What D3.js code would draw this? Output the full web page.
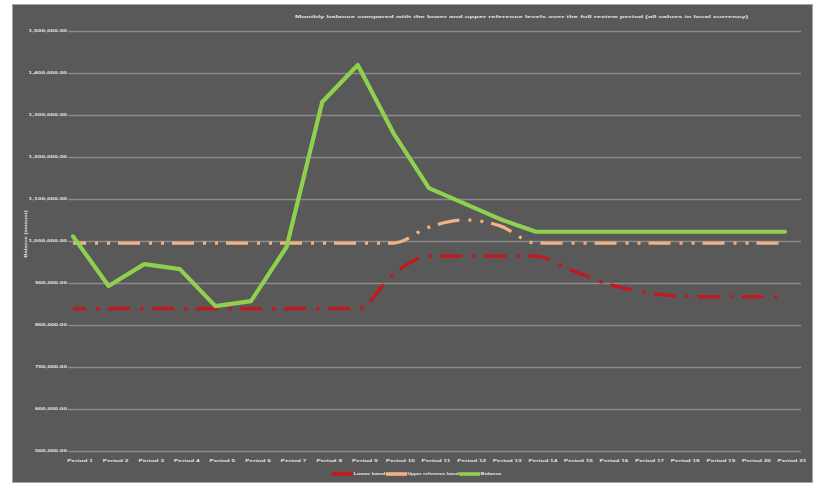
<!DOCTYPE html>
<html>
<head>
<meta charset="utf-8">
<script src="https://cdn.jsdelivr.net/npm/d3@7"></script>
<style>
  html, body { margin: 0; padding: 0; background: #ffffff; }
  svg { display: block; }
  text { font-family: "Liberation Sans", Arial, sans-serif; }
</style>
</head>
<body>
<svg id="chart" width="813" height="486"></svg>
<script>
// ---- data ----
const chartTitle = "Monthly balance compared with the lower and upper reference levels over the full review period (all values in local currency)";
const yAxisTitle = "Balance (amount)";
const categories = [
  "Period 1", "Period 2", "Period 3", "Period 4", "Period 5", "Period 6", "Period 7",
  "Period 8", "Period 9", "Period 10", "Period 11", "Period 12", "Period 13", "Period 14",
  "Period 15", "Period 16", "Period 17", "Period 18", "Period 19", "Period 20", "Period 21"
];
const yTicks = [500000, 600000, 700000, 800000, 900000, 1000000, 1100000, 1200000, 1300000, 1400000, 1500000];

const seriesNames = ["Lower band", "Upper reference band", "Balance"];
const lowerBand = [
  839000, 839000, 839000, 839000, 839000, 839000, 839000, 839000, 839000,
  921000, 964000, 964000, 964000, 964000,
  931000, 898000, 879000, 869000, 867000, 867000, 867000
];
const upperBand = [
  995000, 995000, 995000, 995000, 995000, 995000, 995000, 995000, 995000, 995000,
  1033000, 1050000, 1036000,
  995000, 995000, 995000, 995000, 995000, 995000, 995000, 995000
];
const balance = [
  1011000, 893000, 945000, 933000, 845000, 857000, 986000, 1331000, 1419000,
  1257000, 1126000, 1089000, 1052000, 1022000,
  1022000, 1022000, 1022000, 1022000, 1022000, 1022000, 1022000
];

// ---- layout ----
const plot = { left: 68, right: 801, top: 31, bottom: 451 };
const charPitch = 3.2;   // tiny text is spread to a fixed pitch per character
const textFill = "#e4e4e4";

const svg = d3.select("#chart");

// chart background
svg.append("rect")
  .attr("x", 12.5).attr("y", 4.5)
  .attr("width", 800).attr("height", 478)
  .attr("fill", "#595959")
  .attr("stroke", "#a6a6a6").attr("stroke-width", 1);

const x = d3.scalePoint().domain(categories).range([73, 785]);
const y = d3.scaleLinear().domain([500000, 1500000]).range([plot.bottom, plot.top]);

function tinyText(sel) {
  sel.attr("font-size", 3.6)
     .attr("font-weight", "bold")
     .attr("fill", textFill)
     .attr("lengthAdjust", "spacingAndGlyphs")
     .attr("textLength", function () { return this.textContent.length * charPitch; });
}

// y axis with gridlines
const yAxis = svg.append("g")
  .attr("transform", `translate(${plot.left},0)`)
  .call(d3.axisLeft(y)
    .tickValues(yTicks)
    .tickSize(-(plot.right - plot.left))
    .tickPadding(1)
    .tickFormat(d => d3.format(",.2f")(d)));
yAxis.select(".domain").remove();
yAxis.selectAll(".tick line").attr("stroke", "#8a8a8a").attr("stroke-width", 1.4);
yAxis.selectAll(".tick text").attr("dy", "0.2em").call(tinyText);

// x axis labels
const xAxis = svg.append("g")
  .attr("transform", `translate(0,${plot.bottom})`)
  .call(d3.axisBottom(x).tickSize(0).tickPadding(8));
xAxis.select(".domain").remove();
xAxis.selectAll(".tick text").attr("dx", 6.5).call(tinyText);

// title
svg.append("text")
  .attr("x", 295).attr("y", 17.5)
  .text(chartTitle)
  .call(tinyText)
  .attr("textLength", 453);

// y axis title
svg.append("text")
  .attr("transform", "translate(26.5,234) rotate(-90)")
  .attr("text-anchor", "middle")
  .text(yAxisTitle)
  .call(tinyText)
  .attr("textLength", 47);

// series lines
const smooth = d3.line()
  .x((d, i) => x(categories[i]))
  .y(d => y(d))
  .curve(d3.curveMonotoneX);
const straight = d3.line()
  .x((d, i) => x(categories[i]))
  .y(d => y(d));

const series = [
  { name: seriesNames[0], values: lowerBand, color: "#c8161d", width: 3.2, dash: "22,10,3.5,8.5", gen: smooth },
  { name: seriesNames[1], values: upperBand, color: "#f4b183", width: 3.2, dash: "22,9,3,9,3,8", gen: smooth },
  { name: seriesNames[2], values: balance, color: "#8fd14f", width: 4.2, dash: null, gen: straight }
];

series.forEach(s => {
  svg.append("path")
    .datum(s.values)
    .attr("d", s.gen)
    .attr("fill", "none")
    .attr("stroke", s.color)
    .attr("stroke-width", s.width)
    .attr("stroke-linejoin", "round")
    .attr("stroke-linecap", s.dash ? "butt" : "round")
    .attr("stroke-dasharray", s.dash)
    .attr("stroke-dashoffset", s.dash ? 9 : null);
});

// legend
const legendY = 474;
const legendTextWidths = [32, 51, 21];
let lx = 332;
series.forEach((s, i) => {
  svg.append("line")
    .attr("x1", lx).attr("x2", lx + 21)
    .attr("y1", legendY).attr("y2", legendY)
    .attr("stroke", s.color).attr("stroke-width", 3.6);
  lx += 21.5;
  svg.append("text")
    .attr("x", lx).attr("y", legendY + 1.3)
    .text(s.name)
    .call(tinyText)
    .attr("textLength", legendTextWidths[i]);
  lx += legendTextWidths[i] + 0.5;
});
</script>
</body>
</html>
